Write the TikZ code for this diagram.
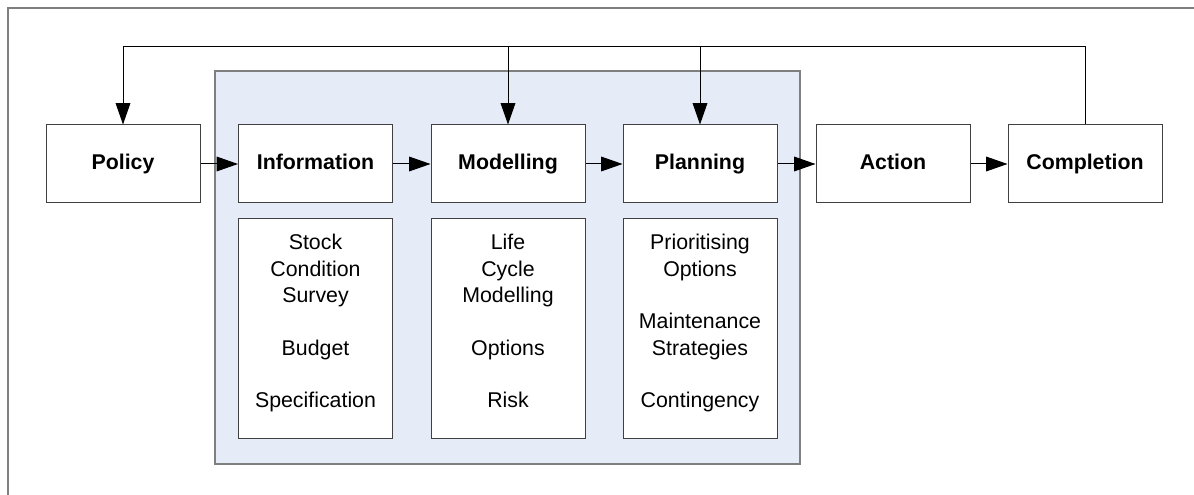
\documentclass[tikz,border=0pt]{standalone}
\usepackage{fontspec}
\setmainfont{Liberation Sans}
\usetikzlibrary{arrows.meta}
\definecolor{panelblue}{HTML}{E6ECF7}
\definecolor{framegray}{HTML}{7F7F7F}
\begin{document}
\begin{tikzpicture}[x=0.75pt,y=-0.75pt,
  stage/.style={draw=black!75,fill=white,line width=0.75pt,minimum width=115.5pt,minimum height=58.5pt,inner sep=0pt,text height=11.7pt,text depth=3.4pt,font=\fontsize{16}{19.75}\selectfont\bfseries},
  detail/.style={draw=black!75,fill=white,line width=0.75pt,minimum width=115.5pt,minimum height=164.25pt,inner sep=0pt},
  items/.style={align=center,inner sep=0pt,font=\fontsize{16}{19.75}\selectfont},
  flow/.style={line width=0.75pt,-{Triangle[length=16pt,width=11pt]}}]
\useasboundingbox (0,0) rectangle (1194,495);
% frame and shaded core
\draw[framegray,line width=1.5pt] (7.5,495) -- (7.5,8) -- (1194,8);
\draw[framegray,fill=panelblue,line width=1.5pt] (215,71) rectangle (800,464);
% stages
\node[stage] (policy) at (123,164) {Policy};
\node[stage] (information) at (315.5,164) {Information};
\node[stage] (modelling) at (508,164) {Modelling};
\node[stage] (planning) at (700,164) {Planning};
\node[stage] (action) at (893,164) {Action};
\node[stage] (completion) at (1085,164) {Completion};
% details
\node[detail] (infodetail) at (315.5,328.5) {};
\node[items] (infoitems) at (315.5,323.7) {\strut Stock\\Condition\\Survey\\[19.75pt]Budget\\[19.75pt]Specification\strut};
\node[detail] (modeldetail) at (508,328.5) {};
\node[items] (modelitems) at (508,323.7) {\strut Life\\Cycle\\Modelling\\[19.75pt]Options\\[19.75pt]Risk\strut};
\node[detail] (plandetail) at (700,328.5) {};
\node[items] (planitems) at (700,323.7) {\strut Prioritising\\Options\\[19.75pt]Maintenance\\Strategies\\[19.75pt]Contingency\strut};
% flow
\draw[flow] (policy) -- (information);
\draw[flow] (information) -- (modelling);
\draw[flow] (modelling) -- (planning);
\draw[flow] (planning) -- (action);
\draw[flow] (action) -- (completion);
% feedback
\coordinate (top) at (1085,47);
\draw[flow] (completion.north) -- (top) -| (policy.north);
\foreach \n in {modelling,planning}
\draw[flow] (\n.north |- top) -- (\n.north);
\end{tikzpicture}
\end{document}
